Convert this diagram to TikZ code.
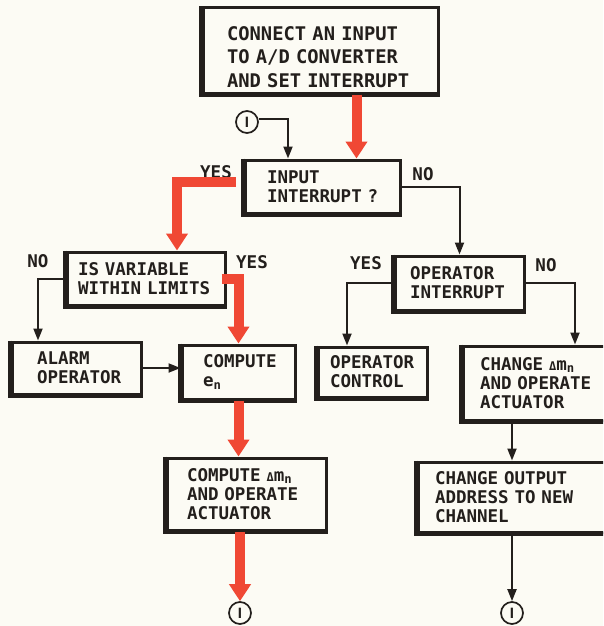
\documentclass[tikz,border=0pt]{standalone}
\usepackage{fontspec}
\setmainfont{DejaVu Sans Mono}
\newfontfamily\barfont{Liberation Sans}
\usetikzlibrary{arrows.meta}

\definecolor{paper}{RGB}{252,251,244}
\definecolor{flowred}{RGB}{240,72,52}
\definecolor{ink}{RGB}{35,31,28}

\newcommand{\deltamn}{{\fontsize{12}{12}\selectfont Δ}m\textsubscript{n}}
\newcommand{\errn}{e\textsubscript{n}}

\begin{document}
\begin{tikzpicture}[x=1pt,y=-1pt,
    box/.style={draw=ink,line width=3pt,rectangle,align=left,text=ink,
                font=\fontsize{17.5}{19}\selectfont\bfseries,inner ysep=0pt,
                % heavier left and bottom edge
                append after command={\pgfextra{\draw[ink,line width=4.4pt]
                    ([xshift=-0.7pt]\tikzlastnode.north west) |- ([yshift=-0.7pt]\tikzlastnode.south east);}}},
    lbl/.style={text=ink,font=\fontsize{17.5}{19}\selectfont\bfseries,inner sep=0pt},
    conn/.style={circle,draw=ink,line width=1.7pt,minimum size=22pt,inner sep=0pt,
                 text=ink,font=\barfont\fontsize{15}{15}\selectfont\bfseries},
    arr/.style={draw=ink,line width=2pt,-{Triangle[width=9pt,length=12pt]}},
    redarr/.style={draw=flowred,line width=10pt,-{Triangle[width=21pt,length=17pt]}}]

    \useasboundingbox (0,0) rectangle (603,626);
    \clip (0,0) rectangle (603,626);
    \fill[paper] (0,0) rectangle (603,626);

    %input side
    \node[box,minimum width=235pt,minimum height=85pt,inner xsep=24pt,text width=187pt,
          font=\fontsize{18.8}{23.5}\selectfont\bfseries,text height=27pt]
          (setint) at (320.5,50.5) {CONNECT~AN~INPUT\\TO~A/D~CONVERTER\\AND~SET~INTERRUPT};
    \node[box,minimum width=155pt,minimum height=53pt,inner xsep=22pt,text width=111pt]
          (inpint) at (322.5,186.5) {INPUT\\INTERRUPT~?};
    \node[box,minimum width=158pt,minimum height=53pt,inner xsep=11pt,text width=136pt]
          (limits) at (146,278.5) {IS~VARIABLE\\WITHIN~LIMITS};
    \node[box,minimum width=129pt,minimum height=52pt,inner xsep=25pt,text width=79pt]
          (alarm) at (76.5,368) {ALARM\\OPERATOR};
    \node[box,minimum width=113pt,minimum height=54pt,inner xsep=21pt,text width=71pt]
          (comperr) at (238.5,372) {COMPUTE\\\errn};
    \node[box,minimum width=159pt,minimum height=72pt,inner xsep=20pt,text width=119pt]
          (compdm) at (246.5,494) {COMPUTE~\deltamn\\AND~OPERATE\\ACTUATOR};

    %operator side
    \node[box,minimum width=129pt,minimum height=54pt,inner xsep=15pt,text width=99pt]
          (opint) at (459.5,283) {OPERATOR\\INTERRUPT};
    \node[box,minimum width=109pt,minimum height=50pt,inner xsep=12pt,text width=85pt]
          (opctl) at (372.5,372) {OPERATOR\\CONTROL};
    \node[box,minimum width=149pt,minimum height=74pt,inner xsep=17pt,text width=115pt]
          (chgdm) at (537.5,383) {CHANGE~\deltamn\\AND~OPERATE\\ACTUATOR};
    \node[box,minimum width=200pt,minimum height=70pt,inner xsep=17pt,text width=166pt]
          (chgout) at (518,497) {CHANGE~OUTPUT\\ADDRESS~TO~NEW\\CHANNEL};

    %connectors
    \node[conn] (loop) at (247,122) {I};
    \node[conn] (back1) at (240,613) {I};
    \node[conn] (back2) at (512,613) {I};

    %yes / no
    \node[lbl] (yes1) at (216,172) {YES};
    \node[lbl] (no1) at (423,174) {NO};
    \node[lbl] (no2) at (38,261) {NO};
    \node[lbl] (yes2) at (252,262) {YES};
    \node[lbl] (yes3) at (366,263) {YES};
    \node[lbl] (no3) at (546,265) {NO};

    %red path
    \draw[redarr] ([xshift=36pt]setint.south) -- ([xshift=36pt]setint.south |- inpint.north);
    \draw[redarr] ([xshift=-8pt,yshift=4.5pt]inpint.west) -| ([xshift=31pt]limits.north);
    \draw[redarr] ([xshift=-5pt]limits.east) -| (comperr.north);
    \draw[redarr] (comperr.south) -- (comperr.south |- compdm.north);
    \draw[redarr] (back1 |- compdm.south) -- (back1.north);

    %black lines
    \draw[arr] ([yshift=3pt]loop.east) -| ([xshift=-34.5pt]inpint.north);
    \draw[arr] (limits.west) -| ([xshift=-38.5pt]alarm.north);
    \draw[arr] (alarm.east) -- (alarm.east -| comperr.west);
    \draw[arr] (inpint.east) -| (opint.north);
    \draw[arr] (opint.west) -| ([xshift=-25.5pt]opctl.north);
    \draw[arr] (opint.east) -| ([xshift=37.5pt]chgdm.north);
    \draw[arr] (back2 |- chgdm.south) -- (back2 |- chgout.north);
    \draw[arr] (back2 |- chgout.south) -- (back2.north);

\end{tikzpicture}
\end{document}
